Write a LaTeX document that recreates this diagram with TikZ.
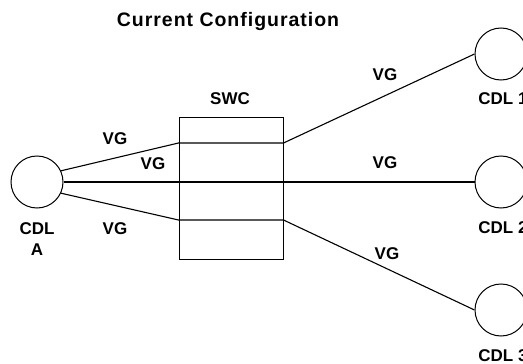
\documentclass[tikz,border=0pt]{standalone}
\usepackage{fontspec}
\setmainfont{Liberation Sans}
\usepackage{tikz}
\usetikzlibrary{calc}

\begin{document}
\begin{tikzpicture}[x=1pt,y=-1pt]
    \tikzset{
      site/.style={draw, circle, minimum size=52pt, inner sep=0pt, line width=1pt},
      swbox/.style={draw, rectangle, minimum width=104pt, minimum height=142pt, line width=1pt},
      lbl/.style={font=\bfseries\fontsize{17}{17}\selectfont, inner sep=0pt},
      line/.style={draw, line width=1.1pt}
    }
    \clip (0,0) rectangle (523,364);
    \node [lbl, font=\bfseries\fontsize{19.5}{19.5}\selectfont\addfontfeature{LetterSpace=5}] (title) at (228,22) {Current Configuration};
    \node [swbox] (swc) at (231,188) {};
    \node [site, left of = swc, node distance=194pt, yshift=6pt] (a) {};
    \node [site, right of = swc, node distance=270pt, yshift=134pt] (cdl1) {};
    \node [site, right of = swc, node distance=270pt, yshift=6pt] (cdl2) {};
    \node [site, right of = swc, node distance=270pt, yshift=-122pt] (cdl3) {};

    \coordinate (nw) at ([yshift=45pt]swc.west);
    \coordinate (ne) at ([yshift=45pt]swc.east);
    \coordinate (sw) at ([yshift=-32pt]swc.west);
    \coordinate (se) at ([yshift=-32pt]swc.east);

    \path [line] (a.25) -- (nw) -- (ne) -- (cdl1.west);
    \path [line] (a) -- (cdl2);
    \path [line] (a.-25) -- (sw) -- (se) -- (cdl3.west);

    % labels
    \node [lbl] (swclbl) at (230,99) {SWC};
    \node [lbl, align=center] (albl) at (37,239) {CDL\\[4pt]A};
    \node [lbl] (lbl1) at (503,99) {CDL 1};
    \node [lbl] (lbl2) at (503,228) {CDL 2};
    \node [lbl] (lbl3) at (503,356) {CDL 3};
    \node [lbl] (vg1) at (115,139) {VG};
    \node [lbl] (vg2) at (153,164) {VG};
    \node [lbl] (vg3) at (115,229) {VG};
    \node [lbl] (vg4) at (385,75) {VG};
    \node [lbl] (vg5) at (385,163) {VG};
    \node [lbl] (vg6) at (387,254) {VG};
\end{tikzpicture}
\end{document}
